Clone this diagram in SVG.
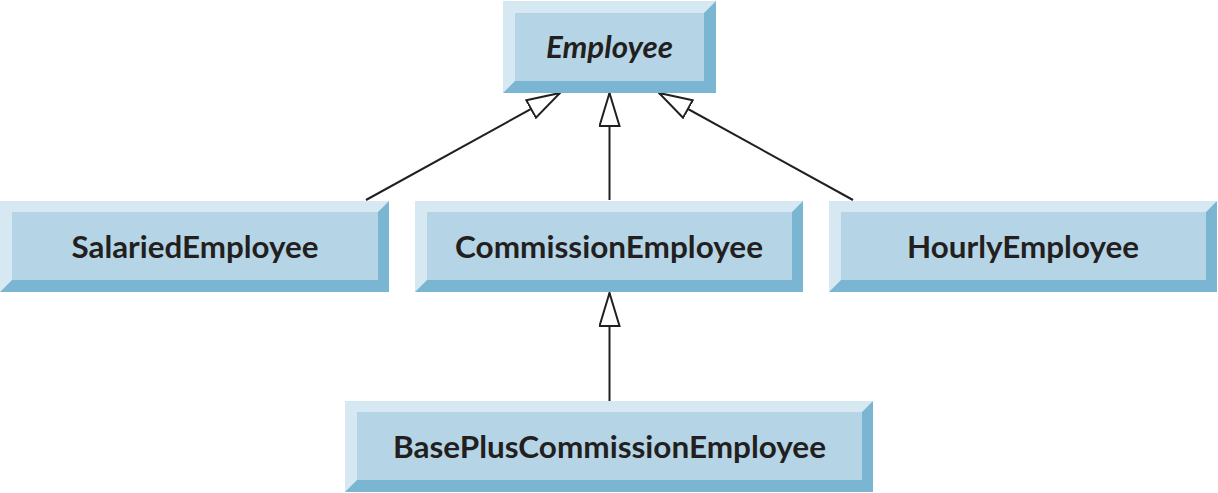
<svg xmlns="http://www.w3.org/2000/svg" width="1218" height="493" viewBox="0 0 1218 493">
<style>
.hi{fill:#d6e9f3}
.sh{fill:#7ab5d1}
.face{fill:#b5d5e6}
.lbl{font-family:Lato,"Open Sans",sans-serif;font-weight:bold;font-size:31px;fill:#231f20;text-anchor:middle}
.it{font-style:italic}
.conn{stroke:#231f20;stroke-width:2;fill:none}
</style>
<defs>
<marker id="tri" markerUnits="userSpaceOnUse" markerWidth="36" markerHeight="22" viewBox="-1 -1 36 22" refX="33" refY="10" orient="auto">
<path d="M0,0 L33,10 L0,20 Z" fill="#fff" stroke="#231f20" stroke-width="2" stroke-linejoin="miter"/>
</marker>
</defs>
<rect width="1218" height="493" fill="#fff"/>
<g id="connectors">
<line class="conn" x1="366" y1="200" x2="560" y2="93" marker-end="url(#tri)"/>
<line class="conn" x1="609.5" y1="200" x2="609.5" y2="93" marker-end="url(#tri)"/>
<line class="conn" x1="853" y1="200" x2="659" y2="93" marker-end="url(#tri)"/>
<line class="conn" x1="609.5" y1="401" x2="609.5" y2="293" marker-end="url(#tri)"/>
</g>
<g id="Employee">
<rect class="hi" x="503" y="1" width="213" height="92"/>
<polygon class="sh" points="716,1 716,93 503,93 515,81 704,81 704,13"/>
<rect class="face" x="515" y="13" width="189" height="68"/>
<text class="lbl it" x="609.5" y="58" textLength="127" lengthAdjust="spacingAndGlyphs">Employee</text>
</g>
<g id="SalariedEmployee">
<rect class="hi" x="0" y="201" width="389" height="91"/>
<polygon class="sh" points="389,201 389,292 0,292 12,280 378,280 378,212"/>
<rect class="face" x="12" y="212" width="366" height="68"/>
<text class="lbl" x="195" y="258" textLength="247" lengthAdjust="spacingAndGlyphs">SalariedEmployee</text>
</g>
<g id="CommissionEmployee">
<rect class="hi" x="415" y="201" width="388" height="91"/>
<polygon class="sh" points="803,201 803,292 415,292 427,280 792,280 792,212"/>
<rect class="face" x="427" y="212" width="365" height="68"/>
<text class="lbl" x="609" y="258" textLength="308" lengthAdjust="spacingAndGlyphs">CommissionEmployee</text>
</g>
<g id="HourlyEmployee">
<rect class="hi" x="829" y="201" width="388" height="91"/>
<polygon class="sh" points="1217,201 1217,292 829,292 841,280 1206,280 1206,212"/>
<rect class="face" x="841" y="212" width="365" height="68"/>
<text class="lbl" x="1023" y="258" textLength="232" lengthAdjust="spacingAndGlyphs">HourlyEmployee</text>
</g>
<g id="BasePlusCommissionEmployee">
<rect class="hi" x="345" y="401" width="528" height="91"/>
<polygon class="sh" points="873,401 873,492 345,492 357,480 862,480 862,412"/>
<rect class="face" x="357" y="412" width="505" height="68"/>
<text class="lbl" x="609.5" y="458" textLength="433" lengthAdjust="spacingAndGlyphs">BasePlusCommissionEmployee</text>
</g>
</svg>
